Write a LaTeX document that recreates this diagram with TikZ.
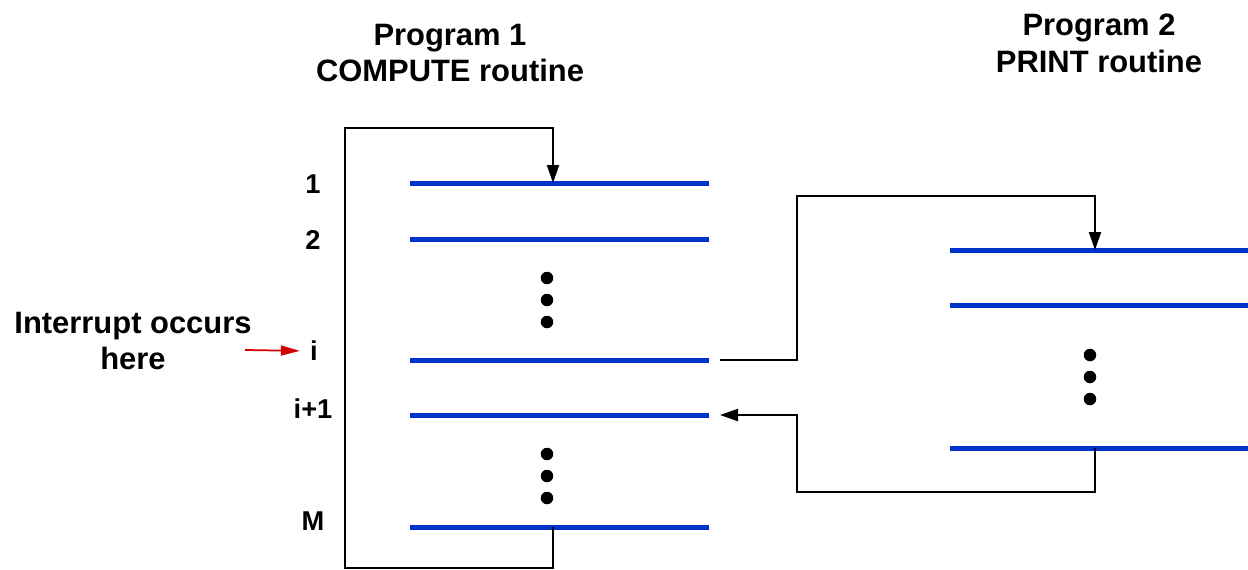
\documentclass[tikz,border=0pt]{standalone}
\usepackage{fontspec}
\setmainfont{Liberation Sans}
\usetikzlibrary{arrows.meta}
\tikzset{
  instr/.style={line width=0.1cm, draw={rgb,255:red,0;green,51;blue,204}},
  flow/.style={line width=0.04cm, draw=black},
  flowarrow/.style={flow, -{Triangle[length=0.36cm,width=0.24cm]}},
  title/.style={font=\bfseries\fontsize{17.6}{21}\selectfont, align=center, inner sep=0pt},
  num/.style={font=\bfseries\fontsize{15.5}{18}\selectfont, inner sep=0pt},
  dot/.style={circle, fill=black, minimum size=0.25cm, inner sep=0pt},
}
\begin{document}
\begin{tikzpicture}[x=0.02cm, y=-0.02cm]
\useasboundingbox (0,0) rectangle (1248,569);
% titles
\node[title] (t1) at (450,53) {Program 1\\COMPUTE routine};
\node[title] (t2) at (1099,43) {Program 2\\PRINT routine};
% program 1 instruction lines
\foreach \n/\y in {a1/183, a2/239, ai/360, aj/415, am/527} {
  \coordinate (\n L) at (410,\y);
  \coordinate (\n R) at (709,\y);
  \draw[instr] (\n L) -- (\n R);
}
% program 2 instruction lines
\foreach \n/\y in {b1/250, b2/305, bn/448} {
  \coordinate (\n L) at (950,\y);
  \coordinate (\n R) at (1248,\y);
  \draw[instr] (\n L) -- (\n R);
}
% dots
\node[dot] (d1) at (547,278) {};
\node[dot] (d2) at (547,300) {};
\node[dot] (d3) at (547,322) {};
\node[dot] (d4) at (547,454) {};
\node[dot] (d5) at (547,476) {};
\node[dot] (d6) at (547,498) {};
\node[dot] (e1) at (1090,355) {};
\node[dot] (e2) at (1090,377) {};
\node[dot] (e3) at (1090,399) {};
% labels
\node[num] (l1) at (313,184) {1};
\node[num] (l2) at (313,240) {2};
\node[num] (li) at (314,351) {i};
\node[num] (lj) at (313,409) {i+1};
\node[num] (lm) at (313,521) {M};
\node[title] (intr) at (133,341) {Interrupt occurs\\here};
% red arrow
\coordinate (rs) at (245,350);
\draw[draw={rgb,255:red,210;green,0;blue,0}, line width=0.035cm, shorten >=0.2cm, -{Triangle[length=0.38cm,width=0.2cm]}] (rs) -- (li.west);
% program 1 loop
\coordinate (a1T) at (553,183);
\coordinate (amB) at (553,527);
\draw[flowarrow] (amB) -- (553,568) -- (345,568) -- (345,128) -- (553,128) -- (a1T);
% jump to program 2
\coordinate (aiS) at (720,360);
\coordinate (b1T) at (1095,250);
\draw[flowarrow] (aiS) -- (797,360) -- (797,196) -- (1095,196) -- (b1T);
% return
\coordinate (bnB) at (1095,448);
\coordinate (ajE) at (720,415);
\draw[flowarrow] (bnB) -- (1095,492) -- (797,492) -- (797,415) -- (ajE);
\end{tikzpicture}
\end{document}
